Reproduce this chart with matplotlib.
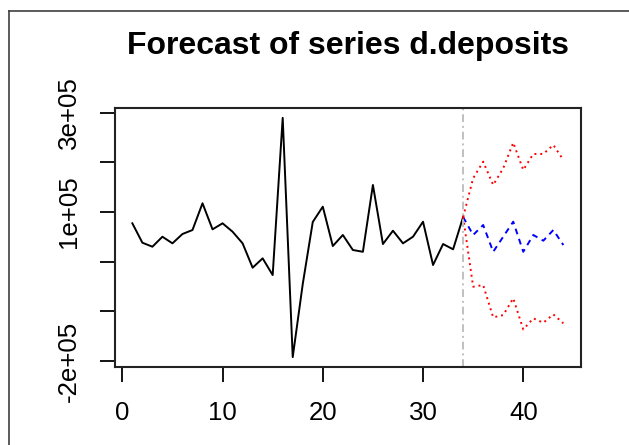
import matplotlib
matplotlib.use("Agg")
import matplotlib.pyplot as plt
from matplotlib.lines import Line2D

# ---- data ----
obs_x = list(range(1, 35))
obs_y = [77300, 38300, 30200, 50300, 37000, 55800, 63800, 117600, 65200, 77300,
         60400, 37000, -12000, 6800, -26800, 289500, -192000, -45000, 80000, 110800,
         31600, 53800, 23600, 20000, 154500, 35600, 62400, 37000, 50300, 80500,
         -6600, 35600, 25000, 90000]

fc_x = list(range(34, 45))
fc_mean = [90000, 53800, 73900, 20000, 50300, 80600, 20000, 53800, 42300, 63800, 33600]
fc_upper = [90000, 167900, 201400, 154500, 188000, 239600, 184700, 216900, 216900, 235000, 204800]
fc_lower = [90000, -50300, -46900, -112000, -107300, -73700, -136200, -114000, -122800, -106000, -124000]

split_x = 34
xticks = [0, 10, 20, 30, 40]
yticks = [-200000, -100000, 0, 100000, 200000, 300000]
ytick_labels = ["-2e+05", "", "", "1e+05", "", "3e+05"]
title = "Forecast of series d.deposits"

plt.rcParams['font.family'] = ['Liberation Sans', 'DejaVu Sans']

fig = plt.figure(figsize=(6.29, 4.45), dpi=100)
ax = fig.add_axes([115.1 / 629, 1 - 366.7 / 445, (580.6 - 115.1) / 629, (366.7 - 108.3) / 445])

ax.plot(obs_x, obs_y, color='black', lw=1.4)
ax.plot(fc_x, fc_mean, color='blue', lw=1.4, linestyle=(0, (3, 2.5)))
ax.plot(fc_x, fc_upper, color='red', lw=1.4, linestyle=(0, (1, 2)))
ax.plot(fc_x, fc_lower, color='red', lw=1.4, linestyle=(0, (1, 2)))
ax.axvline(split_x, color='#c0c0c0', lw=1.4, linestyle=(0, (4, 2, 1, 2)))

# R-style 4% padding
allx = obs_x + fc_x
ally = obs_y + fc_mean + fc_upper + fc_lower
xr = max(allx) - min(allx)
yr = max(ally) - min(ally)
ax.set_xlim(min(allx) - 0.04 * xr, max(allx) + 0.04 * xr)
ax.set_ylim(min(ally) - 0.04 * yr, max(ally) + 0.04 * yr)

ax.set_xticks(xticks)
ax.set_xticklabels([str(t) for t in xticks])
ax.set_yticks(yticks)
ax.set_yticklabels(ytick_labels, rotation=90, va='center')

ax.tick_params(axis='both', direction='out', length=10.8, width=1.3, labelsize=18.6,
               colors='black', pad=14)
for s in ax.spines.values():
    s.set_linewidth(1.5)
    s.set_color('#222222')

fig.text(348 / 629, 1 - 46 / 445, title, ha='center', va='center',
         fontsize=23, fontweight='bold')

# outer frame (left and top edges of a screenshot border)
fig.add_artist(Line2D([8.5 / 629, 8.5 / 629], [0, 1 - 11 / 445], transform=fig.transFigure,
                      color='#404040', lw=1.2))
fig.add_artist(Line2D([8.5 / 629, 1], [1 - 11 / 445, 1 - 11 / 445], transform=fig.transFigure,
                      color='#404040', lw=1.2))

fig.savefig('out.png', dpi=100)
